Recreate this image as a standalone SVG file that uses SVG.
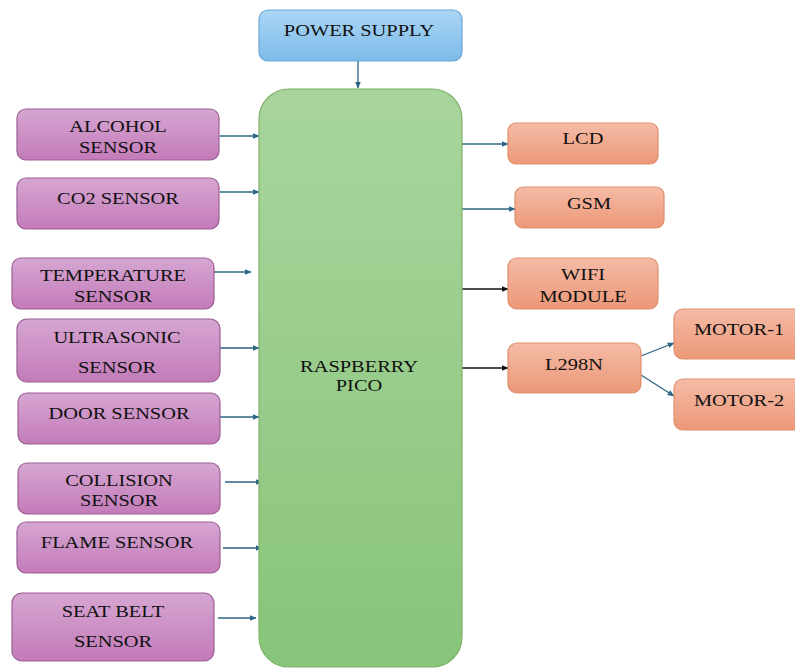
<svg xmlns="http://www.w3.org/2000/svg" width="795" height="668" viewBox="0 0 795 668">
<defs>
<linearGradient id="gP" x1="0" y1="0" x2="0" y2="1"><stop offset="0" stop-color="#d6a6d2"/><stop offset="1" stop-color="#c37bb9"/></linearGradient>
<linearGradient id="gG" x1="0" y1="0" x2="0" y2="1"><stop offset="0" stop-color="#a9d59d"/><stop offset="1" stop-color="#88c47a"/></linearGradient>
<linearGradient id="gB" x1="0" y1="0" x2="0" y2="1"><stop offset="0" stop-color="#abd6f6"/><stop offset="1" stop-color="#7cbbe9"/></linearGradient>
<linearGradient id="gO" x1="0" y1="0" x2="0" y2="1"><stop offset="0" stop-color="#f5bba6"/><stop offset="1" stop-color="#ec9878"/></linearGradient>
<marker id="ab" viewBox="0 0 10 10" refX="9" refY="5" markerWidth="7" markerHeight="7" markerUnits="userSpaceOnUse" orient="auto"><path d="M0,1 L10,5 L0,9 Z" fill="#2b6583"/></marker>
<marker id="ak" viewBox="0 0 10 10" refX="9" refY="5" markerWidth="7" markerHeight="7" markerUnits="userSpaceOnUse" orient="auto"><path d="M0,1 L10,5 L0,9 Z" fill="#111"/></marker>
</defs>
<style>
.p{fill:url(#gP);stroke:#9b5f93;stroke-width:1.2}
.g{fill:url(#gG);stroke:#7fb26a;stroke-width:1.2}
.b{fill:url(#gB);stroke:#6ea6d3;stroke-width:1.2}
.o{fill:url(#gO);stroke:#df8f6f;stroke-width:1.2}
text{font-family:'Liberation Serif','Times New Roman',serif;font-size:17px;fill:#111;text-anchor:middle}
.c{stroke:#2b6583;stroke-width:1.3;fill:none;marker-end:url(#ab)}
.k{stroke:#111;stroke-width:1.3;fill:none;marker-end:url(#ak)}
</style>
<g id="connectors">
<line class="c" x1="358" y1="61" x2="358" y2="88"/>
<line class="c" x1="220" y1="136" x2="259" y2="136"/>
<line class="c" x1="220" y1="192" x2="259" y2="192"/>
<line class="c" x1="214" y1="272" x2="251" y2="272"/>
<line class="c" x1="220" y1="348" x2="259" y2="348"/>
<line class="c" x1="220" y1="417" x2="259" y2="417"/>
<line class="c" x1="225" y1="482" x2="262" y2="482"/>
<line class="c" x1="223" y1="548" x2="262" y2="548"/>
<line class="c" x1="218" y1="618" x2="256" y2="618"/>
<line class="c" x1="462" y1="144" x2="508" y2="144"/>
<line class="c" x1="462" y1="209" x2="515" y2="209"/>
<line class="k" x1="462" y1="289" x2="508" y2="289"/>
<line class="k" x1="462" y1="368" x2="508" y2="368"/>
<line class="c" x1="641" y1="356" x2="674" y2="343"/>
<line class="c" x1="641" y1="375" x2="674" y2="396"/>
</g>
<g id="power-supply"><rect class="b" x="259" y="10" width="203" height="51" rx="9"/><text transform="translate(359,36) scale(1.2,1)">POWER SUPPLY</text></g>
<g id="raspberry-pico"><rect class="g" x="259" y="89" width="203" height="578" rx="30"/><text transform="translate(359,372) scale(1.2,1)">RASPBERRY</text><text transform="translate(359,391) scale(1.2,1)">PICO</text></g>
<g id="alcohol-sensor"><rect class="p" x="17" y="109" width="202" height="51" rx="9"/><text transform="translate(118,132) scale(1.2,1)">ALCOHOL</text><text transform="translate(118,153) scale(1.2,1)">SENSOR</text></g>
<g id="co2-sensor"><rect class="p" x="17" y="178" width="202" height="51" rx="9"/><text transform="translate(118,204) scale(1.2,1)">CO2 SENSOR</text></g>
<g id="temperature-sensor"><rect class="p" x="12" y="258" width="202" height="51" rx="9"/><text transform="translate(113,281) scale(1.2,1)">TEMPERATURE</text><text transform="translate(113,302) scale(1.2,1)">SENSOR</text></g>
<g id="ultrasonic-sensor"><rect class="p" x="17" y="319" width="203" height="63" rx="10"/><text transform="translate(117,343) scale(1.2,1)">ULTRASONIC</text><text transform="translate(117,373) scale(1.2,1)">SENSOR</text></g>
<g id="door-sensor"><rect class="p" x="18" y="393" width="202" height="51" rx="9"/><text transform="translate(119,419) scale(1.2,1)">DOOR SENSOR</text></g>
<g id="collision-sensor"><rect class="p" x="18" y="463" width="202" height="51" rx="9"/><text transform="translate(119,486) scale(1.2,1)">COLLISION</text><text transform="translate(119,506) scale(1.2,1)">SENSOR</text></g>
<g id="flame-sensor"><rect class="p" x="17" y="522" width="203" height="51" rx="9"/><text transform="translate(117,548) scale(1.2,1)">FLAME SENSOR</text></g>
<g id="seat-belt-sensor"><rect class="p" x="12" y="593" width="202" height="68" rx="10"/><text transform="translate(113,617) scale(1.2,1)">SEAT BELT</text><text transform="translate(113,647) scale(1.2,1)">SENSOR</text></g>
<g id="lcd"><rect class="o" x="508" y="123" width="150" height="41" rx="8"/><text transform="translate(583,144) scale(1.2,1)">LCD</text></g>
<g id="gsm"><rect class="o" x="515" y="187" width="149" height="41" rx="8"/><text transform="translate(589,209) scale(1.2,1)">GSM</text></g>
<g id="wifi-module"><rect class="o" x="508" y="258" width="150" height="51" rx="9"/><text transform="translate(583,280) scale(1.2,1)">WIFI</text><text transform="translate(583,302) scale(1.2,1)">MODULE</text></g>
<g id="l298n"><rect class="o" x="508" y="343" width="133" height="50" rx="9"/><text transform="translate(574,370) scale(1.2,1)">L298N</text></g>
<g id="motor-1"><rect class="o" x="674" y="309" width="130" height="50" rx="9"/><text transform="translate(739,335) scale(1.2,1)">MOTOR-1</text></g>
<g id="motor-2"><rect class="o" x="674" y="379" width="130" height="51" rx="9"/><text transform="translate(739,406) scale(1.2,1)">MOTOR-2</text></g>
</svg>
